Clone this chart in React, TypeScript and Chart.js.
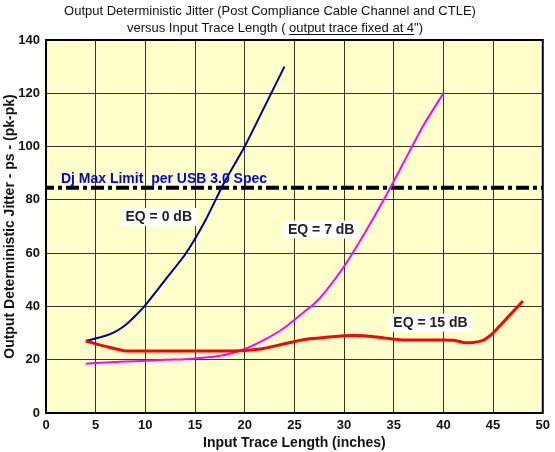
import React, { useEffect, useRef } from "react";
import { Chart, registerables } from "chart.js";

Chart.register(...registerables);

// ---- data ----
const eq0X = [4, 6, 7, 8, 9, 10, 12, 14, 16, 18, 20, 22, 24];
const eq0Y = [27, 29, 30.5, 33, 36.5, 40.5, 50, 59.5, 72, 87, 100, 115, 130];

const eq7X = [4, 6, 8, 10, 12, 14, 16, 18, 20, 22, 24, 26, 27, 28, 30, 32, 34, 36, 38, 40];
const eq7Y = [18.5, 19, 19.3, 19.6, 20, 20.2, 20.8, 21.8, 24, 27.5, 32, 38, 41, 45, 55, 67, 80, 94, 108, 120];

const eq15X = [4, 6, 8, 10, 12, 15, 18, 20, 22, 24, 26, 28, 30, 32, 34, 36, 38, 40, 41, 42, 43, 44, 45, 46, 47, 48];
const eq15Y = [27, 25, 23.3, 23.3, 23.3, 23.3, 23.3, 23.5, 24.3, 26, 27.6, 28.3, 29, 29, 28.2, 27.4, 27.4, 27.4, 27.3, 26.5, 26.5, 27.3, 30, 34, 38, 42];

const limitX = [0, 50];
const limitY = [84.5, 84.5];

const titleLine1 = "Output Deterministic Jitter (Post Compliance Cable Channel and CTLE)";
const titleLine2Parts = ["versus Input Trace Length ( ", "output trace fixed at 4", "\")"];
const xTitle = "Input Trace Length (inches)";
const yTitle = "Output Deterministic Jitter - ps - (pk-pk)";
const limitLabel = "Dj Max Limit  per USB 3.0 Spec";

const boxLabels = [
  { text: "EQ = 0 dB", x: 11.35, y: 73.6 },
  { text: "EQ = 7 dB", x: 27.7, y: 68.9 },
  { text: "EQ = 15 dB", x: 38.7, y: 33.9 },
];
const limitLabelPos = { x: 1.5, y: 87.6 };

const FONT = "Arial, 'Liberation Sans', sans-serif";

const zip = (xs: number[], ys: number[]) => xs.map((x, i) => ({ x, y: ys[i] }));

const decorPlugin = {
  id: "decor",
  beforeDraw(chart: any) {
    const { ctx, chartArea: a } = chart;
    ctx.save();
    ctx.fillStyle = "#ffffff";
    ctx.fillRect(0, 0, chart.width, chart.height);
    ctx.fillStyle = "#FFFFCC";
    ctx.fillRect(a.left, a.top, a.right - a.left, a.bottom - a.top);
    ctx.restore();
  },
  beforeDatasetsDraw(chart: any) {
    const { ctx, chartArea: a } = chart;
    ctx.save();
    ctx.strokeStyle = "#000";
    ctx.lineWidth = 2;
    ctx.strokeRect(a.left, a.top, a.right - a.left, a.bottom - a.top);
    ctx.restore();
  },
  afterDatasetsDraw(chart: any) {
    const { ctx } = chart;
    const xs = chart.scales.x;
    const ys = chart.scales.y;
    ctx.save();
    // limit label
    ctx.font = `bold 14px ${FONT}`;
    ctx.fillStyle = "#0000EE";
    ctx.textAlign = "left";
    ctx.textBaseline = "middle";
    ctx.fillText(limitLabel, xs.getPixelForValue(limitLabelPos.x), ys.getPixelForValue(limitLabelPos.y));
    // boxed labels
    for (const b of boxLabels) {
      const cx = xs.getPixelForValue(b.x);
      const cy = ys.getPixelForValue(b.y);
      const w = ctx.measureText(b.text).width + 9;
      const h = 18;
      ctx.fillStyle = "#ffffff";
      ctx.fillRect(cx - w / 2, cy - h / 2, w, h);
      ctx.fillStyle = "#222";
      ctx.textAlign = "center";
      ctx.fillText(b.text, cx, cy + 0.5);
    }
    ctx.restore();
  },
  afterDraw(chart: any) {
    const { ctx, chartArea: a } = chart;
    ctx.save();
    ctx.fillStyle = "#111";
    ctx.textBaseline = "middle";
    ctx.font = `13px ${FONT}`;
    ctx.textAlign = "center";
    ctx.fillText(titleLine1, 270, 11);
    // line 2 with underline
    const widths = titleLine2Parts.map((p) => ctx.measureText(p).width);
    const total = widths.reduce((s, w) => s + w, 0);
    let x = 275 - total / 2;
    ctx.textAlign = "left";
    titleLine2Parts.forEach((p, i) => {
      ctx.fillText(p, x, 28);
      if (i === 1) {
        ctx.fillRect(x, 34, widths[i], 1);
      }
      x += widths[i];
    });
    // x title
    ctx.font = `bold 14px ${FONT}`;
    ctx.textAlign = "center";
    ctx.fillText(xTitle, (a.left + a.right) / 2, 443);
    // y title
    ctx.font = `bold 14px ${FONT}`;
    ctx.translate(10, (a.top + a.bottom) / 2);
    ctx.rotate(-Math.PI / 2);
    ctx.fillText(yTitle, 0, 0);
    ctx.restore();
  },
};

export default function App() {
  const ref = useRef<HTMLCanvasElement | null>(null);
  useEffect(() => {
    document.body.style.margin = "0";
    if (!ref.current) return;
    const chart = new Chart(ref.current, {
      type: "line",
      data: {
        datasets: [
          {
            data: zip(limitX, limitY),
            borderColor: "#000",
            borderWidth: 4,
            borderDash: [13, 4, 4, 4],
            borderDashOffset: 5,
            pointRadius: 0,
            order: 4,
          },
          {
            data: zip(eq0X, eq0Y),
            borderColor: "#000080",
            borderWidth: 2,
            pointRadius: 0,
            tension: 0.2,
            order: 3,
          },
          {
            data: zip(eq7X, eq7Y),
            borderColor: "#FF00FF",
            borderWidth: 2,
            pointRadius: 0,
            tension: 0.2,
            order: 2,
          },
          {
            data: zip(eq15X, eq15Y),
            borderColor: "#FF0000",
            borderWidth: 3,
            pointRadius: 0,
            tension: 0.2,
            order: 1,
          },
        ],
      },
      options: {
        animation: false,
        responsive: false,
        devicePixelRatio: 1,
        layout: { padding: { top: 40, right: 9, left: 0, bottom: 0 } },
        plugins: { legend: { display: false }, tooltip: { enabled: false }, title: { display: false } },
        scales: {
          x: {
            type: "linear",
            min: 0,
            max: 50,
            afterFit: (s: any) => {
              s.height = 39;
            },
            ticks: {
              stepSize: 5,
              padding: 5,
              maxRotation: 0,
              color: "#111",
              font: { family: FONT, size: 13, weight: "bold" },
            },
            grid: { color: "rgba(20,20,10,0.85)", lineWidth: 1, drawTicks: false },
            border: { display: false },
          },
          y: {
            type: "linear",
            min: 0,
            max: 140,
            afterFit: (s: any) => {
              s.width = 46;
            },
            ticks: {
              stepSize: 20,
              padding: 6,
              color: "#111",
              font: { family: FONT, size: 13, weight: "bold" },
            },
            grid: { color: "rgba(20,20,10,0.85)", lineWidth: 1, drawTicks: false },
            border: { display: false },
          },
        },
      },
      plugins: [decorPlugin],
    } as any);
    return () => chart.destroy();
  }, []);
  return (
    <div style={{ width: 555, height: 452 }}>
      <canvas ref={ref} width={555} height={452} style={{ display: "block" }} />
    </div>
  );
}
